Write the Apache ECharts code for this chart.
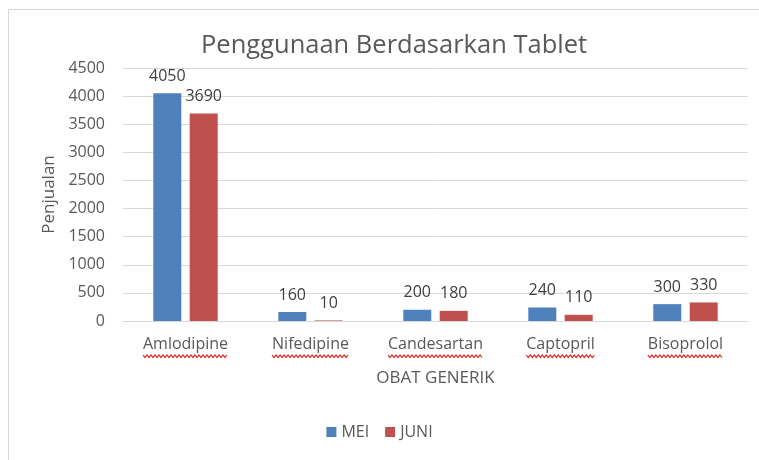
<!DOCTYPE html>
<html>
<head>
    <meta http-equiv="Content-Type" content="text/html; charset=utf-8" />
    <script src="https://cdn.jsdelivr.net/npm/echarts@6/dist/echarts.min.js"></script>
    <style>
        body { margin: 0; background: #fff; }
        #frame { position: absolute; left: 8px; top: 9px; width: 800px; height: 500px; border: 1px solid #d9d9d9; }
        #chart { position: absolute; left: 0; top: 0; width: 759px; height: 460px; }
    </style>
</head>
<body>
<div id="frame"></div>
<div id="chart"></div>

<script type="text/javascript">
    var obat = ['Amlodipine', 'Nifedipine', 'Candesartan', 'Captopril', 'Bisoprolol'];
    var dataMei = [4050, 160, 200, 240, 300];
    var dataJuni = [3690, 10, 180, 110, 330];

    var fontName = 'Open Sans';
    var labelSize = 16;
    var chart = echarts.init(document.getElementById('chart'));

    var option = {
        animation: false,
        title: {
            text: 'Penggunaan Berdasarkan Tablet',
            left: 196,
            top: 28,
            textStyle: { fontFamily: fontName, fontSize: 25.5, fontWeight: 'normal', color: '#595959' }
        },
        legend: {
            data: ['MEI', 'JUNI'],
            bottom: 15,
            left: 'center',
            itemWidth: 10,
            itemHeight: 10,
            itemGap: 16,
            icon: 'rect',
            textStyle: { fontFamily: fontName, fontSize: 16, color: '#595959' }
        },
        grid: { left: 123, right: 11, top: 68, bottom: 139, containLabel: false },
        xAxis: {
            type: 'category',
            data: obat,
            name: 'OBAT GENERIK',
            nameLocation: 'middle',
            nameGap: 49,
            nameTextStyle: { fontFamily: fontName, fontSize: 17, color: '#595959' },
            axisLine: { lineStyle: { color: '#d9d9d9' } },
            axisTick: { show: false },
            axisLabel: { fontFamily: fontName, fontSize: labelSize, color: '#595959', margin: 15 }
        },
        yAxis: {
            type: 'value',
            min: 0,
            max: 4500,
            interval: 500,
            name: 'Penjualan',
            nameLocation: 'middle',
            nameGap: 62,
            nameTextStyle: { fontFamily: fontName, fontSize: 17, color: '#595959' },
            axisLine: { show: false },
            axisTick: { show: false },
            axisLabel: {
                fontFamily: fontName, fontSize: labelSize, color: '#595959', margin: 18,
                formatter: function (v) { return String(v); }
            },
            splitLine: { lineStyle: { color: '#d9d9d9' } }
        },
        series: [
            {
                name: 'MEI',
                type: 'bar',
                data: dataMei,
                barWidth: 28,
                barGap: '30%',
                itemStyle: { color: '#4f81bd' },
                label: { show: true, position: 'top', distance: 9, fontFamily: fontName, fontSize: labelSize, color: '#404040' }
            },
            {
                name: 'JUNI',
                type: 'bar',
                data: dataJuni,
                barWidth: 28,
                itemStyle: { color: '#c0504d' },
                label: { show: true, position: 'top', distance: 9, fontFamily: fontName, fontSize: labelSize, color: '#404040' }
            }
        ]
    };

    chart.setOption(option);

    // red wavy spell-check underline below each category label
    var ctx = document.createElement('canvas').getContext('2d');
    ctx.font = labelSize + 'px "' + fontName + '"';
    var baseY = chart.convertToPixel({ yAxisIndex: 0 }, 0);
    var waves = [];
    obat.forEach(function (name) {
        var cx = chart.convertToPixel({ xAxisIndex: 0 }, name);
        var w = ctx.measureText(name).width;
        var pts = [];
        var y0 = baseY + 34;
        for (var x = cx - w / 2, k = 0; x <= cx + w / 2; x += 2, k++) {
            pts.push([x, y0 + (k % 2 === 0 ? 0 : 2.5)]);
        }
        waves.push({
            type: 'polyline',
            shape: { points: pts },
            style: { stroke: '#e02020', lineWidth: 1.2, fill: null }
        });
    });
    chart.setOption({ graphic: waves });
</script>
</body>
</html>
